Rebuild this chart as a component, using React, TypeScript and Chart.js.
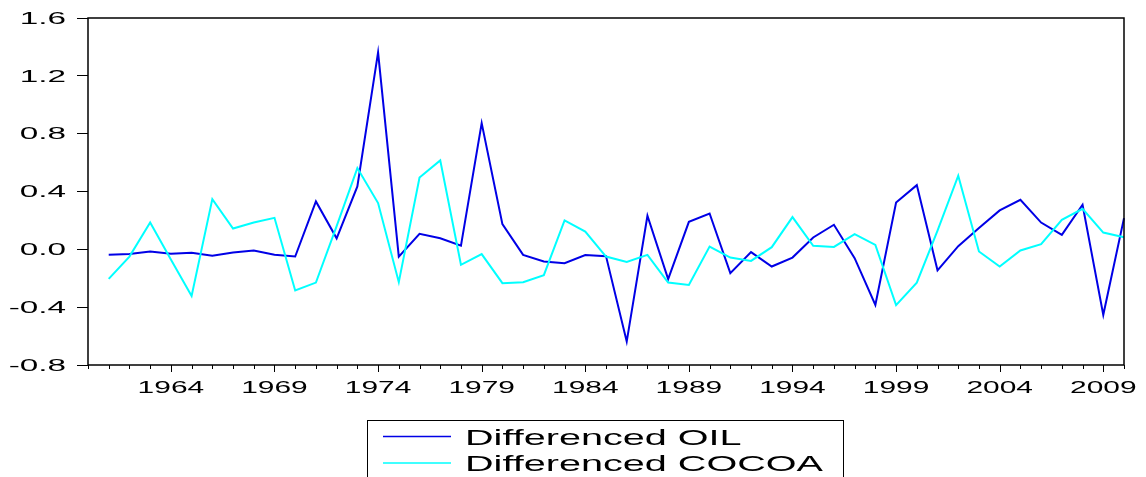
import React, { useEffect, useRef } from "react";
import { Chart, registerables } from "chart.js";

Chart.register(...registerables);

// Annual observations; the first year has no differenced value.
const years: string[] = [
  "1960", "1961", "1962", "1963", "1964", "1965", "1966", "1967", "1968", "1969",
  "1970", "1971", "1972", "1973", "1974", "1975", "1976", "1977", "1978", "1979",
  "1980", "1981", "1982", "1983", "1984", "1985", "1986", "1987", "1988", "1989",
  "1990", "1991", "1992", "1993", "1994", "1995", "1996", "1997", "1998", "1999",
  "2000", "2001", "2002", "2003", "2004", "2005", "2006", "2007", "2008", "2009",
  "2010",
];

const differencedOil: (number | null)[] = [
  null, -0.038, -0.033, -0.015, -0.03, -0.023, -0.045, -0.022, -0.008, -0.038,
  -0.05, 0.331, 0.076, 0.435, 1.362, -0.05, 0.107, 0.077, 0.026, 0.873,
  0.174, -0.038, -0.084, -0.096, -0.04, -0.047, -0.638, 0.232, -0.206, 0.19,
  0.248, -0.165, -0.019, -0.119, -0.057, 0.082, 0.17, -0.061, -0.384, 0.324,
  0.444, -0.145, 0.022, 0.147, 0.269, 0.343, 0.185, 0.1, 0.308, -0.453,
  0.216,
];

const differencedCocoa: (number | null)[] = [
  null, -0.204, -0.05, 0.185, -0.07, -0.322, 0.347, 0.144, 0.185, 0.218,
  -0.285, -0.23, 0.16, 0.562, 0.32, -0.227, 0.497, 0.615, -0.107, -0.033,
  -0.234, -0.227, -0.179, 0.2, 0.123, -0.05, -0.087, -0.038, -0.23, -0.246,
  0.019, -0.057, -0.08, 0.015, 0.223, 0.024, 0.017, 0.105, 0.031, -0.386,
  -0.23, 0.13, 0.509, -0.015, -0.119, -0.008, 0.036, 0.204, 0.28, 0.116,
  0.084,
];

const labelledYears: string[] = [
  "1964", "1969", "1974", "1979", "1984", "1989", "1994", "1999", "2004", "2009",
];

const seriesNames: string[] = ["Differenced OIL", "Differenced COCOA"];
const seriesColors: string[] = ["#0000E6", "#00FFFF"];

const FONT = "'Liberation Sans', Arial, sans-serif";

function wideText(
  ctx: CanvasRenderingContext2D,
  text: string,
  x: number,
  y: number,
  size: number,
  sx: number,
  align: CanvasTextAlign
) {
  ctx.save();
  ctx.translate(x, y);
  ctx.scale(sx, 1);
  ctx.font = `${size}px ${FONT}`;
  ctx.fillStyle = "#000";
  ctx.textAlign = align;
  ctx.textBaseline = "alphabetic";
  ctx.fillText(text, 0, 0);
  ctx.restore();
}

// Frame, axis tick marks, wide tick labels and the boxed legend.
const framePlugin = {
  id: "framePlugin",
  afterDraw(chart: any) {
    const ctx: CanvasRenderingContext2D = chart.ctx;
    const { left, right, top, bottom } = chart.chartArea;
    const xs = chart.scales.x;
    const ys = chart.scales.y;

    ctx.save();
    ctx.strokeStyle = "#000";
    ctx.lineWidth = 1.5;
    ctx.strokeRect(left, top, right - left, bottom - top);

    // x tick marks: long at labelled years, short elsewhere
    ctx.lineWidth = 1;
    years.forEach((yr, i) => {
      const x = Math.round(xs.getPixelForTick(i)) + 0.5;
      const len = labelledYears.includes(yr) ? 7 : 4;
      ctx.beginPath();
      ctx.moveTo(x, bottom);
      ctx.lineTo(x, bottom + len);
      ctx.stroke();
    });

    labelledYears.forEach((yr) => {
      const x = xs.getPixelForValue(years.indexOf(yr));
      wideText(ctx, yr, x, 393, 17, 1.76, "center");
    });

    ys.ticks.forEach((t: any, i: number) => {
      const y = ys.getPixelForTick(i);
      wideText(ctx, t.value.toFixed(1), 66, y + 5.8, 16, 2.08, "right");
    });

    // legend box
    const bx = 367;
    const by = 420;
    const bw = 476;
    ctx.lineWidth = 1;
    ctx.strokeStyle = "#000";
    ctx.strokeRect(bx + 0.5, by + 0.5, bw, 80);
    const rowY = [436.5, 463];
    seriesNames.forEach((name, i) => {
      ctx.strokeStyle = seriesColors[i];
      ctx.lineWidth = 1.5;
      ctx.beginPath();
      ctx.moveTo(383, rowY[i]);
      ctx.lineTo(451, rowY[i]);
      ctx.stroke();
      wideText(ctx, name, 465, rowY[i] + 8, 22, 1.8, "left");
    });
    ctx.restore();
  },
};

export default function App() {
  const canvasRef = useRef<HTMLCanvasElement | null>(null);

  useEffect(() => {
    if (!canvasRef.current) return;
    const chart = new Chart(canvasRef.current, {
      type: "line",
      data: {
        labels: years,
        datasets: [
          {
            label: seriesNames[0],
            data: differencedOil,
            borderColor: seriesColors[0],
            borderWidth: 2,
            pointRadius: 0,
            tension: 0,
            order: 1,
          },
          {
            label: seriesNames[1],
            data: differencedCocoa,
            borderColor: seriesColors[1],
            borderWidth: 2,
            pointRadius: 0,
            tension: 0,
            order: 0,
          },
        ],
      },
      options: {
        animation: false,
        responsive: false,
        events: [],
        layout: { padding: { left: 0, top: 18, right: 22, bottom: 0 } },
        plugins: { legend: { display: false }, tooltip: { enabled: false } },
        scales: {
          x: {
            type: "category",
            offset: false,
            grid: { display: false },
            border: { display: false },
            ticks: { display: false, autoSkip: false },
            afterFit: (s: any) => {
              s.height = 112;
            },
          },
          y: {
            min: -0.8,
            max: 1.6,
            ticks: { display: false, stepSize: 0.4 },
            grid: {
              drawOnChartArea: false,
              drawTicks: true,
              tickLength: 11,
              color: "#000",
              lineWidth: 1,
            },
            border: { display: false },
            afterFit: (s: any) => {
              s.width = 88;
            },
          },
        },
      },
      plugins: [framePlugin],
    });
    return () => chart.destroy();
  }, []);

  return (
    <div style={{ position: "absolute", left: 0, top: 0, width: 1146, height: 477, background: "#fff" }}>
      <canvas ref={canvasRef} width={1146} height={477} style={{ display: "block" }} />
    </div>
  );
}
